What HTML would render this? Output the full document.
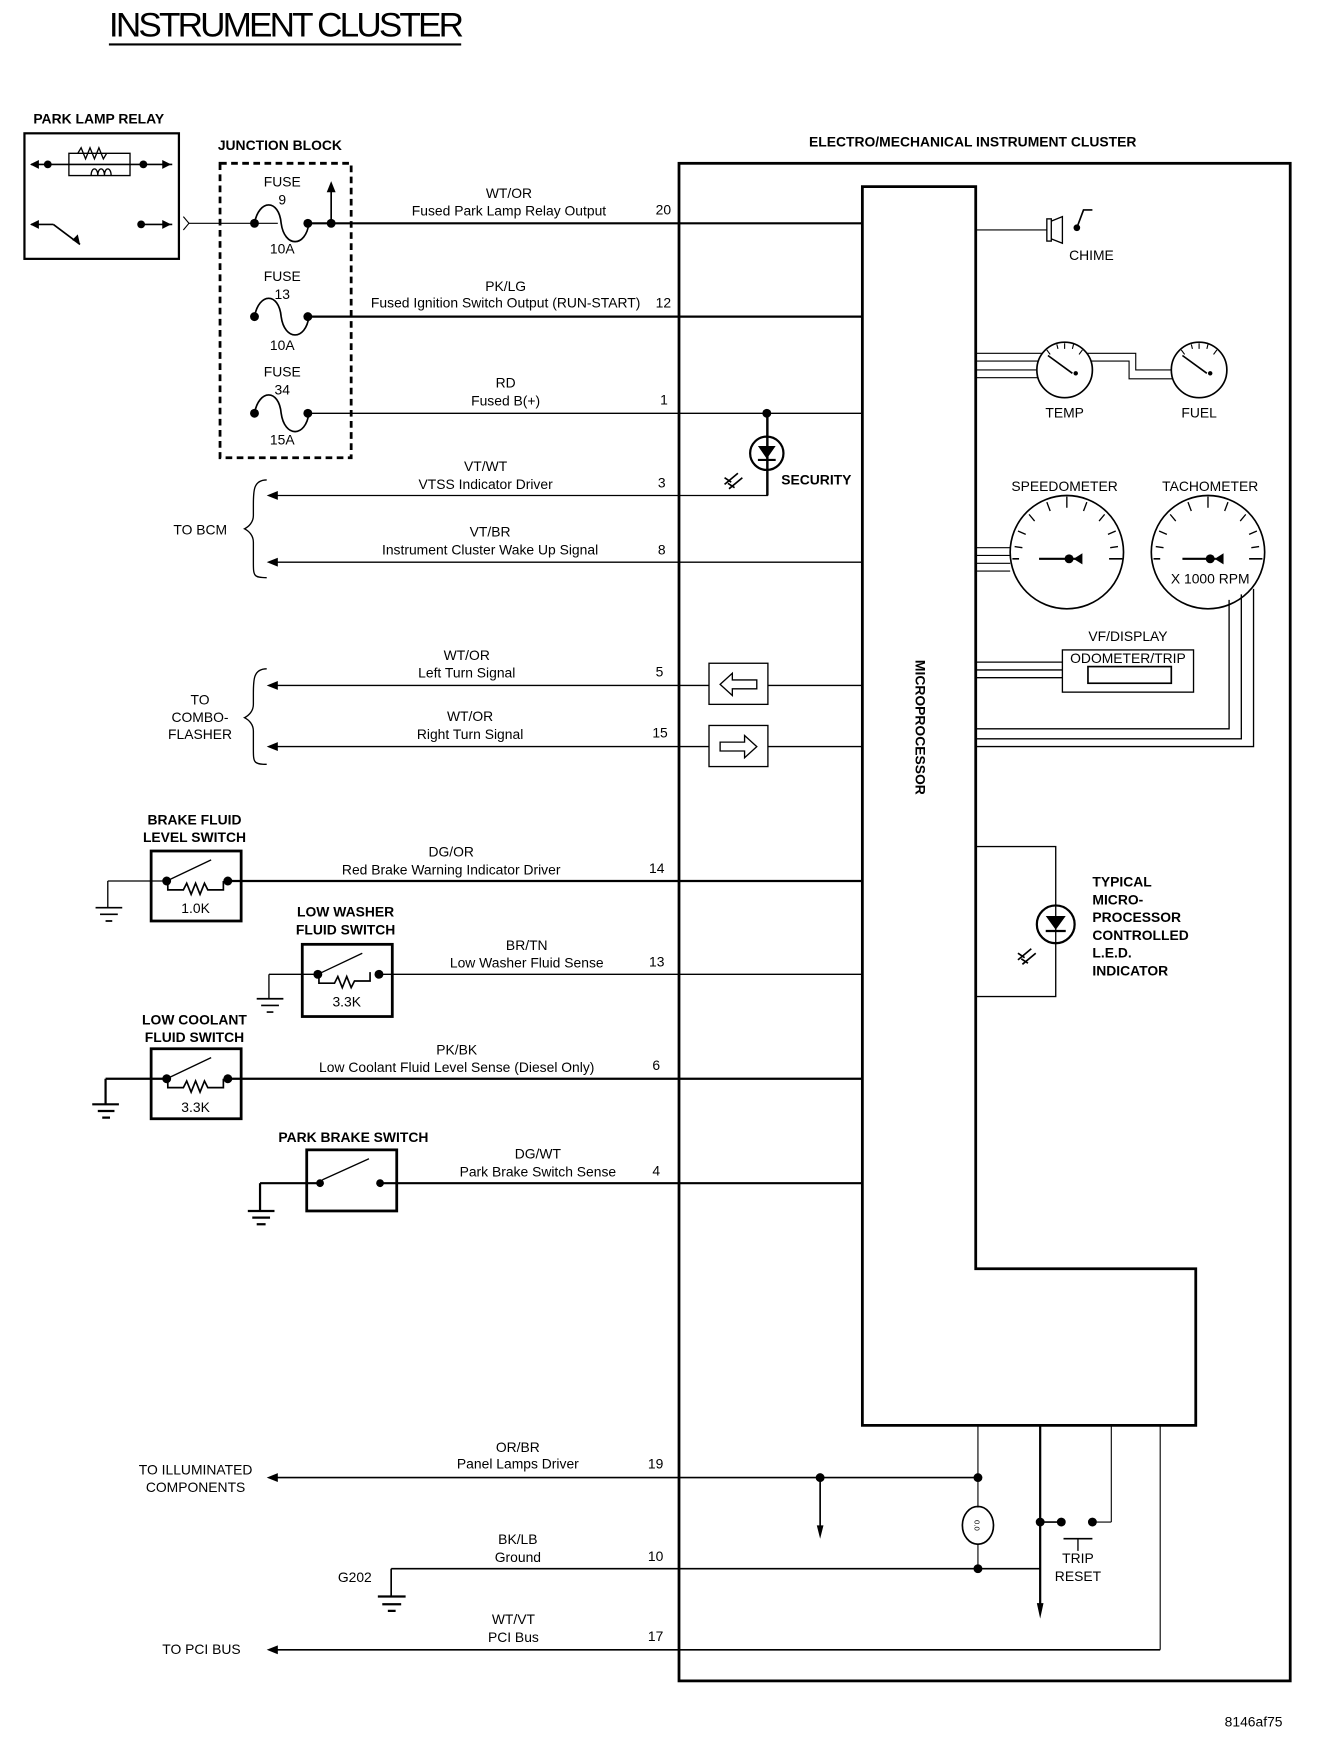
<!DOCTYPE html>
<html><head><meta charset="utf-8"><style>
html,body{margin:0;padding:0;background:#fff;}
svg{display:block;}
text{font-family:"Liberation Sans",Arial,sans-serif;fill:#000;}
.n{font-size:12.5px;}
.b{font-size:12.5px;font-weight:bold;}
.m{text-anchor:middle;}
</style></head><body>
<svg width="1328" height="1742" viewBox="0 0 1195 1568" preserveAspectRatio="none" xmlns="http://www.w3.org/2000/svg">
<rect width="1195" height="1568" fill="#fff"/>
<g stroke="#000" fill="none">
<line x1="98" y1="40" x2="415" y2="40" stroke-width="2"/>
<rect x="22" y="120" width="139" height="113" stroke-width="2"/>
<line x1="28" y1="148" x2="155" y2="148" stroke-width="1.5"/>
<path d="M62 148 V158 H117 V148 M62 148 V138 H117 V148" stroke-width="1.2"/>
<path d="M70 138 l3 -5 l4 10 l4 -10 l4 10 l4 -10 l4 10 l3 -5" stroke-width="1.2"/>
<path d="M82 158 c0 -8 6 -8 6 0 c0 -8 6 -8 6 0 c0 -8 6 -8 6 0" stroke-width="1.2"/>
<line x1="28" y1="202" x2="48" y2="202" stroke-width="1.5"/>
<line x1="48" y1="202" x2="72" y2="220" stroke-width="1.5"/>
<line x1="126" y1="202" x2="155" y2="202" stroke-width="1.5"/>
<path d="M165 195 l5 6 l-5 6" stroke-width="1"/>
<line x1="170" y1="201" x2="250" y2="201" stroke-width="1"/>
<rect x="198" y="147" width="118" height="265" stroke-width="2.5" stroke-dasharray="6,4"/>
<path d="M229 201 c4 -22 22 -22 24 0 c3 22 22 22 25 0" stroke-width="1.5"/>
<line x1="277" y1="201" x2="777" y2="201" stroke-width="2"/>
<line x1="298" y1="201" x2="298" y2="170" stroke-width="1.5"/>
<path d="M229 285 c4 -22 22 -22 24 0 c3 22 22 22 25 0" stroke-width="1.5"/>
<line x1="277" y1="285" x2="777" y2="285" stroke-width="2"/>
<path d="M229 372 c4 -22 22 -22 24 0 c3 22 22 22 25 0" stroke-width="1.5"/>
<line x1="277" y1="372" x2="775" y2="372" stroke-width="1.2"/>
<rect x="611" y="147" width="550" height="1366" stroke-width="2.5"/>
<path d="M776 168 H878 V1142 H1076 V1283 H776 Z" stroke-width="2.5"/>
<line x1="245" y1="446" x2="691" y2="446" stroke-width="1.2"/>
<line x1="691" y1="446" x2="691" y2="372" stroke-width="1.2"/>
<line x1="245" y1="506" x2="775" y2="506" stroke-width="1.2"/>
<path d="M240 432 c-12 0 -12 10 -12 22 v10 c0 6 -4 10 -8 12 c4 2 8 6 8 12 v18 c0 12 0 14 12 14" stroke-width="1.2"/>
<line x1="245" y1="617" x2="638" y2="617" stroke-width="1.2"/>
<line x1="691" y1="617" x2="775" y2="617" stroke-width="1.2"/>
<line x1="245" y1="672" x2="638" y2="672" stroke-width="1.2"/>
<line x1="691" y1="672" x2="775" y2="672" stroke-width="1.2"/>
<rect x="638" y="597" width="53" height="37" stroke-width="1.2"/>
<rect x="638" y="653" width="53" height="37" stroke-width="1.2"/>
<path d="M648 616 l11 -10 v6 h22 v8 h-22 v6 z" stroke-width="1.2"/>
<path d="M681 672 l-11 -10 v6 h-22 v8 h22 v6 z" stroke-width="1.2"/>
<path d="M240 602 c-12 0 -12 10 -12 22 v10 c0 6 -4 10 -8 12 c4 2 8 6 8 12 v16 c0 12 0 14 12 14" stroke-width="1.2"/>
<circle cx="690" cy="408" r="15" stroke-width="2"/>
<line x1="690" y1="372" x2="690" y2="446" stroke-width="1.2"/>
<path d="M683 402 h14 l-7 10 z" fill="#000" stroke-width="1"/>
<line x1="682" y1="414" x2="698" y2="414" stroke-width="2"/>
<path d="M652 436 l12 -10 M656 440 l12 -10 M652 430 l6 4 M655 435 l6 4" stroke-width="1.5"/>
<rect x="136" y="766" width="81" height="63" stroke-width="2.5"/>
<line x1="97" y1="793" x2="150" y2="793" stroke-width="1.2"/>
<line x1="97" y1="793" x2="97" y2="817" stroke-width="1.2"/>
<path d="M86 817 h24 M90 823 h16 M95 829 h6" stroke-width="1.5"/>
<line x1="150" y1="793" x2="190" y2="774" stroke-width="1.2"/>
<path d="M151 793 v8 h14 l3 -6 l4 10 l4 -10 l4 10 l4 -10 l3 6 h14 v-8" stroke-width="1.5"/>
<line x1="205" y1="793" x2="777" y2="793" stroke-width="2"/>
<rect x="272" y="850" width="81" height="65" stroke-width="2.5"/>
<line x1="242" y1="877" x2="286" y2="877" stroke-width="1.2"/>
<line x1="242" y1="877" x2="242" y2="899" stroke-width="1.2"/>
<path d="M231 899 h24 M235 905 h16 M240 911 h6" stroke-width="1.5"/>
<line x1="286" y1="877" x2="326" y2="858" stroke-width="1.2"/>
<path d="M287 877 v8 h14 l3 -6 l4 10 l4 -10 l4 10 l3 -6 h14 v-8" stroke-width="1.5"/>
<line x1="341" y1="877" x2="775" y2="877" stroke-width="1.2"/>
<rect x="136" y="944" width="81" height="63" stroke-width="2.5"/>
<line x1="95" y1="971" x2="150" y2="971" stroke-width="2"/>
<line x1="95" y1="971" x2="95" y2="994" stroke-width="2"/>
<path d="M83 994 h24 M88 1000 h15 M92 1006 h7" stroke-width="2"/>
<line x1="150" y1="971" x2="190" y2="952" stroke-width="1.2"/>
<path d="M151 971 v8 h14 l3 -6 l4 10 l4 -10 l4 10 l4 -10 l3 6 h14 v-8" stroke-width="1.5"/>
<line x1="205" y1="971" x2="777" y2="971" stroke-width="2"/>
<rect x="276" y="1035" width="81" height="55" stroke-width="2.5"/>
<line x1="234" y1="1065" x2="288" y2="1065" stroke-width="2"/>
<line x1="234" y1="1065" x2="234" y2="1090" stroke-width="2"/>
<path d="M223 1090 h24 M227 1096 h16 M231 1102 h8" stroke-width="2"/>
<line x1="290" y1="1062" x2="332" y2="1043" stroke-width="1.2"/>
<line x1="342" y1="1065" x2="777" y2="1065" stroke-width="2"/>
<line x1="245" y1="1330" x2="880" y2="1330" stroke-width="1.5"/>
<line x1="738" y1="1330" x2="738" y2="1375" stroke-width="1.5"/>
<line x1="880" y1="1283" x2="880" y2="1357" stroke-width="1"/>
<ellipse cx="880" cy="1373" rx="14" ry="17" stroke-width="1.5"/>
<line x1="880" y1="1390" x2="880" y2="1412" stroke-width="1"/>
<line x1="352" y1="1412" x2="936" y2="1412" stroke-width="1.5"/>
<line x1="352" y1="1412" x2="352" y2="1437" stroke-width="1.5"/>
<path d="M340 1437 h25 M344 1444 h17 M349 1450 h7" stroke-width="2"/>
<line x1="936" y1="1283" x2="936" y2="1445" stroke-width="2"/>
<line x1="936" y1="1370" x2="955" y2="1370" stroke-width="1.5"/>
<line x1="1000" y1="1283" x2="1000" y2="1370" stroke-width="1"/>
<line x1="983" y1="1370" x2="1000" y2="1370" stroke-width="1"/>
<line x1="957" y1="1385" x2="983" y2="1385" stroke-width="1.5"/>
<line x1="970" y1="1385" x2="970" y2="1396" stroke-width="1.2"/>
<line x1="1044" y1="1283" x2="1044" y2="1485" stroke-width="1"/>
<line x1="245" y1="1485" x2="1044" y2="1485" stroke-width="1.5"/>
<line x1="878" y1="207" x2="942" y2="207" stroke-width="1"/>
<rect x="942" y="197" width="4" height="20" stroke-width="1.2"/>
<path d="M946 199 l10 -4 v24 l-10 -4" stroke-width="1.2"/>
<path d="M969 205 l6 -16 h8" stroke-width="1.5"/>
<path d="M878 318 H1022 V333 H1055" stroke-width="1"/>
<path d="M878 325 H1016 V341 H1055" stroke-width="1"/>
<line x1="878" y1="333" x2="934" y2="333" stroke-width="1"/>
<line x1="878" y1="340" x2="934" y2="340" stroke-width="1"/>
<circle cx="958" cy="333" r="25" fill="#fff" stroke-width="1.5"/>
<circle cx="1079" cy="333" r="25" fill="#fff" stroke-width="1.5"/>
<line x1="943" y1="320" x2="965" y2="336" stroke-width="1.5"/>
<line x1="1064" y1="320" x2="1086" y2="336" stroke-width="1.5"/>
<path d="M958 309 v5 M942 315 l3 4 M974 315 l-3 4 M951 310 l1 4 M966 310 l-1 4" stroke-width="1"/>
<path d="M1079 309 v5 M1063 315 l3 4 M1095 315 l-3 4 M1072 310 l1 4 M1087 310 l-1 4" stroke-width="1"/>
<path d="M878 493 H911 M878 500 H909 M878 507 H909 M878 514 H909" stroke-width="1"/>
<circle cx="960" cy="497" r="51" fill="#fff" stroke-width="1.5"/>
<circle cx="1087" cy="497" r="51" stroke-width="1.5"/>
<line x1="935" y1="503" x2="968" y2="503" stroke-width="2"/>
<line x1="1064" y1="503" x2="1094" y2="503" stroke-width="2"/>
<path d="M911 503 h6 M998 503 h12 M1038 503 h6 M1124 503 h12" stroke-width="1.5"/>
<path d="M960 447 v10 M942 452 l3 8 M978 452 l-3 8 M926 463 l5 6 M994 463 l-5 6 M916 478 l7 3 M1004 478 l-7 3 M913 492 l7 1 M1006 492 l-7 1" stroke-width="1.2"/>
<path d="M1087 447 v10 M1069 452 l3 8 M1105 452 l-3 8 M1053 463 l5 6 M1121 463 l-5 6 M1043 478 l7 3 M1131 478 l-7 3 M1040 492 l7 1 M1133 492 l-7 1" stroke-width="1.2"/>
<rect x="956" y="585" width="118" height="38" stroke-width="1.2"/>
<rect x="979" y="600" width="75" height="15" stroke-width="1.5"/>
<path d="M878 596 H956 M878 603 H956 M878 610 H956" stroke-width="1.2"/>
<path d="M878 656 H1106 V540 M878 665 H1117 V535 M878 672 H1128 V530" stroke-width="1.2"/>
<rect x="878" y="762" width="72" height="135" stroke-width="1.2"/>
<circle cx="950" cy="832" r="17" fill="#fff" stroke-width="2"/>
<path d="M942 825 h16 l-8 11 z" fill="#000" stroke-width="1"/>
<line x1="941" y1="838" x2="959" y2="838" stroke-width="2"/>
<line x1="950" y1="815" x2="950" y2="849" stroke-width="1.2"/>
<path d="M916 864 l12 -10 M920 868 l12 -10 M916 858 l6 4 M919 863 l6 4" stroke-width="1.5"/>
</g>
<g fill="#000">
<circle cx="43" cy="148" r="3.5"/><circle cx="129" cy="148" r="3.5"/><circle cx="127" cy="202" r="3.5"/>
<path d="M27 148 l8 -4 v8 z M154 148 l-8 -4 v8 z M27 202 l8 -4 v8 z M154 202 l-8 -4 v8 z M72 220 l-2 -9 l-5 5 z"/>
<circle cx="229" cy="201" r="4"/><circle cx="277" cy="201" r="4"/><circle cx="298" cy="201" r="4"/>
<path d="M298 163 l-4 10 h8 z"/>
<circle cx="229" cy="285" r="4"/><circle cx="277" cy="285" r="4"/>
<circle cx="229" cy="372" r="4"/><circle cx="277" cy="372" r="4"/>
<circle cx="690" cy="372" r="4"/>
<path d="M240 446 l10 -4 v8 z M240 506 l10 -4 v8 z M240 617 l10 -4 v8 z M240 672 l10 -4 v8 z"/>
<circle cx="150" cy="793" r="4"/><circle cx="205" cy="793" r="4"/>
<circle cx="286" cy="877" r="4"/><circle cx="341" cy="877" r="4"/>
<circle cx="150" cy="971" r="4"/><circle cx="205" cy="971" r="4"/>
<circle cx="288" cy="1065" r="3.5"/><circle cx="342" cy="1065" r="3.5"/>
<path d="M240 1330 l10 -4 v8 z M240 1485 l10 -4 v8 z M738 1385 l-3 -12 h6 z M936 1457 l-3 -14 h6 z"/>
<circle cx="738" cy="1330" r="4"/><circle cx="880" cy="1330" r="4"/><circle cx="880" cy="1412" r="4"/>
<circle cx="936" cy="1370" r="4"/><circle cx="955" cy="1370" r="4"/><circle cx="983" cy="1370" r="4"/>
<circle cx="968" cy="336" r="2"/><circle cx="1089" cy="336" r="2"/>
<circle cx="962" cy="503" r="4"/><circle cx="1089" cy="503" r="4"/>
<path d="M966 503 l8 -5 v10 z M1093 503 l8 -5 v10 z"/>
<circle cx="969" cy="205" r="3"/>
</g>
<text x="98" y="33" style="font-size:31px;letter-spacing:-2.5px" textLength="317" lengthAdjust="spacingAndGlyphs">INSTRUMENT CLUSTER</text>
<text x="30" y="111" class="b">PARK LAMP RELAY</text>
<text x="196" y="135" class="b">JUNCTION BLOCK</text>
<text x="728" y="132" class="b">ELECTRO/MECHANICAL INSTRUMENT CLUSTER</text>
<g class="n">
<text x="254" y="168" class="n m">FUSE</text><text x="254" y="184" class="n m">9</text><text x="254" y="228" class="n m">10A</text>
<text x="254" y="253" class="n m">FUSE</text><text x="254" y="269" class="n m">13</text><text x="254" y="315" class="n m">10A</text>
<text x="254" y="339" class="n m">FUSE</text><text x="254" y="355" class="n m">34</text><text x="254" y="400" class="n m">15A</text>
<text x="458" y="178" class="n m">WT/OR</text><text x="458" y="194" class="n m">Fused Park Lamp Relay Output</text><text x="590" y="193" class="n">20</text>
<text x="455" y="262" class="n m">PK/LG</text><text x="455" y="277" class="n m">Fused Ignition Switch Output (RUN-START)</text><text x="590" y="277" class="n">12</text>
<text x="455" y="349" class="n m">RD</text><text x="455" y="365" class="n m">Fused B(+)</text><text x="594" y="364" class="n">1</text>
<text x="437" y="424" class="n m">VT/WT</text><text x="437" y="440" class="n m">VTSS Indicator Driver</text><text x="592" y="439" class="n">3</text>
<text x="441" y="483" class="n m">VT/BR</text><text x="441" y="499" class="n m">Instrument Cluster Wake Up Signal</text><text x="592" y="499" class="n">8</text>
<text x="156" y="481" class="n">TO BCM</text>
<text x="420" y="594" class="n m">WT/OR</text><text x="420" y="610" class="n m">Left Turn Signal</text><text x="590" y="609" class="n">5</text>
<text x="423" y="649" class="n m">WT/OR</text><text x="423" y="665" class="n m">Right Turn Signal</text><text x="587" y="664" class="n">15</text>
<text x="180" y="634" class="n m">TO</text><text x="180" y="650" class="n m">COMBO-</text><text x="180" y="665" class="n m">FLASHER</text>
<text x="406" y="771" class="n m">DG/OR</text><text x="406" y="787" class="n m">Red Brake Warning Indicator Driver</text><text x="584" y="786" class="n">14</text>
<text x="474" y="855" class="n m">BR/TN</text><text x="474" y="871" class="n m">Low Washer Fluid Sense</text><text x="584" y="870" class="n">13</text>
<text x="411" y="949" class="n m">PK/BK</text><text x="411" y="965" class="n m">Low Coolant Fluid Level Sense (Diesel Only)</text><text x="587" y="963" class="n">6</text>
<text x="484" y="1043" class="n m">DG/WT</text><text x="484" y="1059" class="n m">Park Brake Switch Sense</text><text x="587" y="1058" class="n">4</text>
<text x="176" y="822" class="n m">1.0K</text><text x="312" y="906" class="n m">3.3K</text><text x="176" y="1001" class="n m">3.3K</text>
<text x="466" y="1307" class="n m">OR/BR</text><text x="466" y="1322" class="n m">Panel Lamps Driver</text><text x="583" y="1322" class="n">19</text>
<text x="176" y="1327" class="n m">TO ILLUMINATED</text><text x="176" y="1343" class="n m">COMPONENTS</text>
<text x="466" y="1390" class="n m">BK/LB</text><text x="466" y="1406" class="n m">Ground</text><text x="583" y="1405" class="n">10</text>
<text x="304" y="1424" class="n">G202</text>
<text x="462" y="1462" class="n m">WT/VT</text><text x="462" y="1478" class="n m">PCI Bus</text><text x="583" y="1477" class="n">17</text>
<text x="146" y="1489" class="n">TO PCI BUS</text>
<text x="970" y="1407" class="n m">TRIP</text><text x="970" y="1423" class="n m">RESET</text>
<text x="1102" y="1554" class="n">8146af75</text>
<text x="962" y="234" class="n">CHIME</text>
<text x="958" y="376" class="n m">TEMP</text><text x="1079" y="376" class="n m">FUEL</text>
<text x="958" y="442" class="n m">SPEEDOMETER</text><text x="1089" y="442" class="n m">TACHOMETER</text>
<text x="1089" y="525" class="n m">X 1000 RPM</text>
<text x="1015" y="577" class="n m">VF/DISPLAY</text>
<text x="1015" y="597" class="n m">ODOMETER/TRIP</text>
</g>
<g class="b">
<text x="175" y="742" class="b m">BRAKE FLUID</text><text x="175" y="758" class="b m">LEVEL SWITCH</text>
<text x="311" y="825" class="b m">LOW WASHER</text><text x="311" y="841" class="b m">FLUID SWITCH</text>
<text x="175" y="922" class="b m">LOW COOLANT</text><text x="175" y="938" class="b m">FLUID SWITCH</text>
<text x="318" y="1028" class="b m">PARK BRAKE SWITCH</text>
<text x="703" y="436" class="b">SECURITY</text>
<text x="983" y="798" class="b">TYPICAL</text><text x="983" y="814" class="b">MICRO-</text><text x="983" y="830" class="b">PROCESSOR</text><text x="983" y="846" class="b">CONTROLLED</text><text x="983" y="862" class="b">L.E.D.</text><text x="983" y="878" class="b">INDICATOR</text>
<text x="0" y="0" class="b" transform="translate(824,594) rotate(90)">MICROPROCESSOR</text>
</g>
<text x="0" y="0" transform="translate(877,1373) rotate(90)" style="font-size:7px" text-anchor="middle">0.0</text>
</svg>
</body></html>
